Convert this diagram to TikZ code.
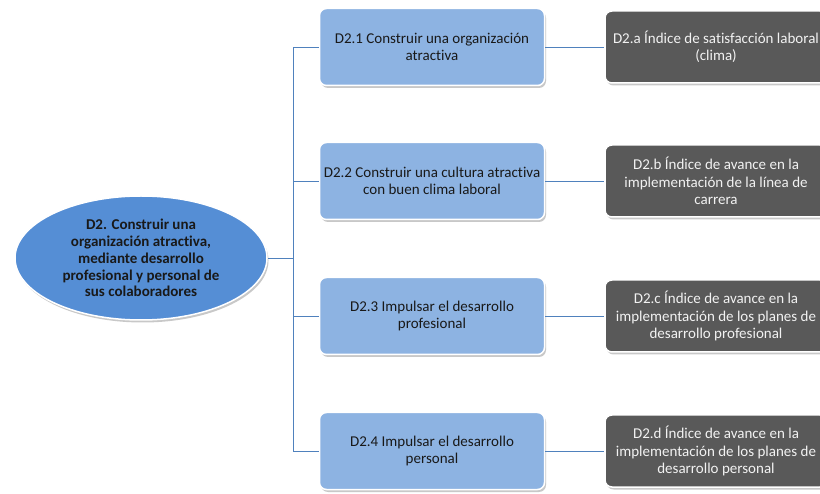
\documentclass[tikz,border=0pt]{standalone}
\usepackage{fontspec}
\setmainfont{Carlito}[Ligatures={NoCommon}]
\usetikzlibrary{shapes.geometric,shadows}
\definecolor{lblue}{HTML}{8DB3E2}
\definecolor{mblue}{HTML}{558ED5}
\definecolor{dgray}{HTML}{595959}
\definecolor{lineblue}{HTML}{4F81BD}
\tikzset{
  shad/.style={drop shadow={shadow xshift=1.5pt, shadow yshift=-2.5pt, opacity=.3, fill=black!70}},
  bluebox/.style={rectangle, rounded corners=7pt, fill=lblue, draw=white, line width=1.5pt,
    minimum width=225pt, minimum height=77pt, align=center, text=black!90,
    font=\fontsize{15}{17.3}\selectfont, shad},
  darkbox/.style={rectangle, rounded corners=7pt, fill=dgray, draw=white, line width=1.5pt,
    minimum width=222pt, minimum height=72pt, align=center, text=white!95!black,
    font=\fontsize{15}{17.3}\selectfont, shad},
  mainell/.style={ellipse, fill=mblue, draw=white, line width=1.5pt,
    minimum width=252pt, minimum height=124pt, inner sep=0pt, align=center,
    font=\bfseries\fontsize{15}{16.8}\selectfont, text=black!90, shad},
  conn/.style={draw=lineblue, line width=0.9pt}
}
\begin{document}
\begin{tikzpicture}[x=1pt,y=-1pt]
\useasboundingbox (0,0) rectangle (820,494);
\clip (0,0) rectangle (820,494);
\fill[white] (0,0) rectangle (820,494);

\node[mainell] (e) at (141,258) {D2. Construir una\\organización atractiva,\\mediante desarrollo\\profesional y personal de\\sus colaboradores};

\node[bluebox] (b1) at (432,47) {D2.1 Construir una organización\\atractiva};
\node[bluebox] (b2) at (432,181) {D2.2 Construir una cultura atractiva\\con buen clima laboral};
\node[bluebox] (b3) at (432,316) {D2.3 Impulsar el desarrollo\\profesional};
\node[bluebox] (b4) at (432,451) {D2.4 Impulsar el desarrollo\\personal};

\node[darkbox] (k1) at (716,47) {D2.a Índice de satisfacción laboral\\(clima)};
\node[darkbox] (k2) at (716,181) {D2.b Índice de avance en la\\implementación de la línea de\\carrera};
\node[darkbox] (k3) at (716,316) {D2.c Índice de avance en la\\implementación de los planes de\\desarrollo profesional};
\node[darkbox] (k4) at (716,451) {D2.d Índice de avance en la\\implementación de los planes de\\desarrollo personal};

\coordinate (hub) at (293,258);
\draw[conn] (e.east) -- (hub);
\draw[conn] (b1.west) -- (b1.west -| hub) -- (b4.west -| hub) -- (b4.west);
\draw[conn] (b2.west) -- (b2.west -| hub);
\draw[conn] (b3.west) -- (b3.west -| hub);
\draw[conn] (b1.east) -- (k1.west);
\draw[conn] (b2.east) -- (k2.west);
\draw[conn] (b3.east) -- (k3.west);
\draw[conn] (b4.east) -- (k4.west);
\end{tikzpicture}
\end{document}
